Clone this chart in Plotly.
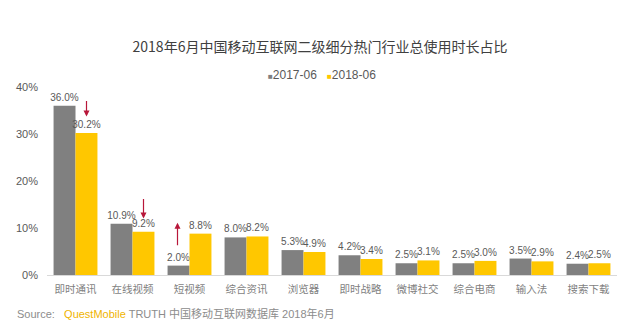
import plotly.graph_objects as go

categories = ["即时通讯", "在线视频", "短视频", "综合资讯", "浏览器", "即时战略", "微博社交", "综合电商", "输入法", "搜索下载"]
values_2017 = [36.0, 10.9, 2.0, 8.0, 5.3, 4.2, 2.5, 2.5, 3.5, 2.4]
values_2018 = [30.2, 9.2, 8.8, 8.2, 4.9, 3.4, 3.1, 3.0, 2.9, 2.5]
series_names = ["2017-06", "2018-06"]
y_ticks = [0, 10, 20, 30, 40]
y_tick_labels = ["0%", "10%", "20%", "30%", "40%"]

CJK = "Noto Sans CJK SC, Microsoft YaHei, sans-serif"
LAT = "Liberation Sans, Arial, Noto Sans CJK SC, sans-serif"
GRAY = "#808080"
YELLOW = "#FFC700"
TXT = "#595959"

W, H = 640, 334
ML, MR, MT, MB = 47, 23, 87, 59
PW, PH = W - ML - MR, H - MT - MB


def px_x(px):
    return (px - ML) / PW


def px_y(py):
    return (H - MB - py) / PH


fig = go.Figure()
for name, vals, col in [(series_names[0], values_2017, GRAY), (series_names[1], values_2018, YELLOW)]:
    fig.add_trace(go.Bar(
        name=name, x=categories, y=vals, marker=dict(color=col, line=dict(width=0)),
        texttemplate="%{y:.1f}%", textposition="outside", constraintext="none",
        cliponaxis=False, textfont=dict(family=LAT, size=10, color=TXT),
        showlegend=False,
    ))

# red arrows (head at data value, tail offset in px)
arrows = [
    (categories[0], 33.7, 11, -17),
    (categories[1], 12.0, 11, -21),
    (categories[2], 11.1, -12, 24),
]
for cat, yv, xs, ay in arrows:
    fig.add_annotation(x=cat, y=yv, xref="x", yref="y", xshift=xs, ax=0, ay=ay,
                       showarrow=True, arrowhead=2, arrowsize=1, arrowwidth=1.2,
                       arrowcolor="#B8173A", text="")

# legend (drawn as text)
legend_items = [(series_names[0], GRAY, 266), (series_names[1], YELLOW, 325)]
for name, col, lx in legend_items:
    fig.add_annotation(
        x=px_x(lx), y=px_y(75), xref="paper", yref="paper",
        xanchor="left", yanchor="middle", showarrow=False,
        text=f"<span style='color:{col};font-size:8px'>■</span>{name}",
        font=dict(family=LAT, size=12, color=TXT),
    )

fig.add_annotation(
    x=px_x(15), y=px_y(313), xref="paper", yref="paper",
    xanchor="left", yanchor="middle", showarrow=False,
    text="Source:   <span style='color:#F0B400'>QuestMobile</span> TRUTH 中国移动互联网数据库 2018年6月",
    font=dict(family=LAT, size=11, color="#8c8c8c"),
)

fig.update_layout(
    width=W, height=H,
    margin=dict(l=ML, r=MR, t=MT, b=MB),
    paper_bgcolor="white", plot_bgcolor="white",
    barmode="group", bargap=0.23, bargroupgap=0,
    title=dict(text="2018年6月中国移动互联网二级细分热门行业总使用时长占比",
               x=0.5, xref="container", xanchor="center",
               y=1 - 47 / H, yref="container", yanchor="middle",
               font=dict(family=CJK, size=14, color="#404040")),
    showlegend=False,
    font=dict(family=CJK),
)
fig.update_xaxes(showline=True, linecolor="#d9d9d9", linewidth=1, ticks="",
                 tickfont=dict(family=CJK, size=10.5, color="#7f7f7f"), showgrid=False,
                 ticklabelstandoff=4)
fig.update_yaxes(range=[0, 40], tickvals=y_ticks, ticktext=y_tick_labels, showgrid=False,
                 zeroline=False, showline=False, ticks="", ticklabelstandoff=8,
                 tickfont=dict(family=LAT, size=11, color=TXT))

fig.write_html("out.html")
